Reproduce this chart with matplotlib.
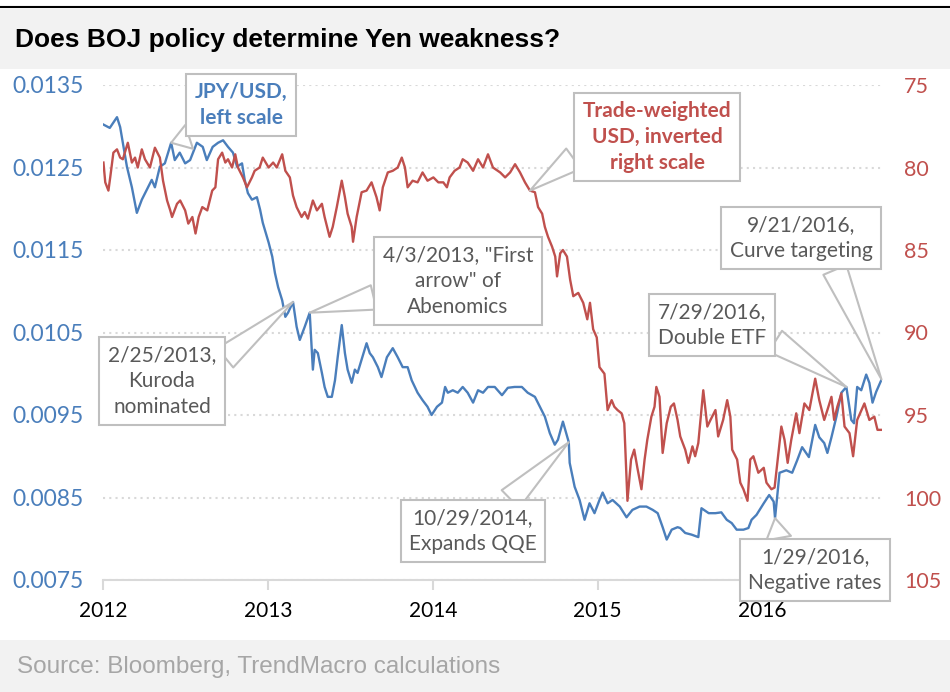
"""
Recreates the TrendMacro chart "Does BOJ policy determine Yen weakness?".

JPY/USD on the left scale against the trade-weighted USD on an inverted
right scale, with callouts for the BOJ policy events from 2013 to 2016.
The figure is saved to out.png.
"""

import numpy as np
import pandas as pd
import matplotlib.pyplot as plt
import matplotlib.dates as mdates
from matplotlib.patches import Rectangle
from matplotlib.lines import Line2D

# JPY/USD, left scale
jpy_dates = [
    "2012-01-02", "2012-01-16", "2012-02-01", "2012-02-08", "2012-02-14",
    "2012-02-23", "2012-03-05", "2012-03-16", "2012-03-27", "2012-04-07",
    "2012-04-18", "2012-04-25", "2012-05-06", "2012-05-17", "2012-05-31",
    "2012-06-08", "2012-06-19", "2012-07-01", "2012-07-12", "2012-07-27",
    "2012-08-09", "2012-08-18", "2012-08-31", "2012-09-12", "2012-09-23",
    "2012-10-04", "2012-10-15", "2012-10-24", "2012-11-04", "2012-11-10",
    "2012-11-17", "2012-11-26", "2012-12-07", "2012-12-14", "2012-12-20",
    "2013-01-02", "2013-01-10", "2013-01-16", "2013-01-23", "2013-02-01",
    "2013-02-08", "2013-02-14", "2013-02-25", "2013-03-05", "2013-03-12",
    "2013-03-23", "2013-04-03", "2013-04-10", "2013-04-14", "2013-04-21",
    "2013-04-30", "2013-05-06", "2013-05-13", "2013-05-22", "2013-05-29",
    "2013-06-04", "2013-06-13", "2013-06-20", "2013-06-26", "2013-07-05",
    "2013-07-12", "2013-07-18", "2013-07-27", "2013-08-07", "2013-08-14",
    "2013-08-21", "2013-09-01", "2013-09-09", "2013-09-21", "2013-09-27",
    "2013-10-04", "2013-10-15", "2013-10-26", "2013-11-06", "2013-11-15",
    "2013-11-22", "2013-11-28", "2013-12-09", "2013-12-20", "2013-12-29",
    "2014-01-10", "2014-01-21", "2014-01-28", "2014-02-03", "2014-02-14",
    "2014-02-25", "2014-03-08", "2014-03-19", "2014-03-31", "2014-04-11",
    "2014-04-22", "2014-05-03", "2014-05-18", "2014-06-03", "2014-06-16",
    "2014-07-01", "2014-07-17", "2014-07-30", "2014-08-15", "2014-08-26",
    "2014-09-06", "2014-09-17", "2014-09-28", "2014-10-05", "2014-10-16",
    "2014-10-29", "2014-10-31", "2014-11-11", "2014-11-22", "2014-12-03",
    "2014-12-14", "2014-12-25", "2015-01-05", "2015-01-12", "2015-01-23",
    "2015-02-03", "2015-02-19", "2015-03-06", "2015-03-19", "2015-04-04",
    "2015-04-19", "2015-05-03", "2015-05-14", "2015-05-25", "2015-06-03",
    "2015-06-14", "2015-06-27", "2015-07-03", "2015-07-14", "2015-07-28",
    "2015-08-12", "2015-08-19", "2015-09-04", "2015-09-19", "2015-10-02",
    "2015-10-14", "2015-10-25", "2015-11-05", "2015-11-20", "2015-12-01",
    "2015-12-08", "2015-12-19", "2016-01-04", "2016-01-16", "2016-01-26",
    "2016-01-29", "2016-02-08", "2016-02-23", "2016-03-07", "2016-03-18",
    "2016-03-29", "2016-04-13", "2016-04-27", "2016-05-06", "2016-05-17",
    "2016-05-24", "2016-06-02", "2016-06-13", "2016-06-24", "2016-07-05",
    "2016-07-16", "2016-07-22", "2016-07-29", "2016-08-07", "2016-08-18",
    "2016-08-25", "2016-09-01", "2016-09-09", "2016-09-21",
]
jpy_usd = [
    0.01302, 0.01298, 0.01311, 0.01299, 0.01280,
    0.01251, 0.01226, 0.01195, 0.01211, 0.01223,
    0.01235, 0.01226, 0.01251, 0.01255, 0.01280,
    0.01259, 0.01268, 0.01255, 0.01259, 0.01280,
    0.01275, 0.01259, 0.01275, 0.01280, 0.01283,
    0.01275, 0.01268, 0.01251, 0.01255, 0.01235,
    0.01219, 0.01211, 0.01214, 0.01199, 0.01183,
    0.01159, 0.01142, 0.01122, 0.01105, 0.01089,
    0.01069, 0.01074, 0.01087, 0.01057, 0.01041,
    0.01057, 0.01074, 0.01005, 0.01029, 0.01025,
    0.01001, 0.00984, 0.00972, 0.00972, 0.00992,
    0.01020, 0.01059, 0.01025, 0.01005, 0.00989,
    0.01005, 0.01001, 0.01017, 0.01037, 0.01025,
    0.01020, 0.01008, 0.00996, 0.01020, 0.01025,
    0.01031, 0.01020, 0.01008, 0.01008, 0.00992,
    0.00984, 0.00977, 0.00968, 0.00960, 0.00950,
    0.00960, 0.00965, 0.00984, 0.00977, 0.00980,
    0.00977, 0.00984, 0.00977, 0.00965, 0.00980,
    0.00977, 0.00984, 0.00984, 0.00974, 0.00983,
    0.00984, 0.00984, 0.00977, 0.00972, 0.00960,
    0.00948, 0.00928, 0.00914, 0.00920, 0.00942,
    0.00917, 0.00892, 0.00863, 0.00847, 0.00823,
    0.00843, 0.00831, 0.00847, 0.00856, 0.00843,
    0.00847, 0.00839, 0.00826, 0.00835, 0.00839,
    0.00839, 0.00835, 0.00831, 0.00814, 0.00799,
    0.00811, 0.00814, 0.00813, 0.00807, 0.00805,
    0.00802, 0.00837, 0.00831, 0.00831, 0.00832,
    0.00823, 0.00819, 0.00811, 0.00811, 0.00813,
    0.00823, 0.00829, 0.00843, 0.00853, 0.00845,
    0.00825, 0.00880, 0.00883, 0.00880, 0.00895,
    0.00911, 0.00899, 0.00938, 0.00923, 0.00916,
    0.00904, 0.00923, 0.00948, 0.00977, 0.00984,
    0.00944, 0.00940, 0.00984, 0.00980, 0.00999,
    0.00989, 0.00965, 0.00978, 0.00993,
]

# Trade-weighted USD, inverted right scale
usd_dates = [
    "2012-01-02", "2012-01-06", "2012-01-13", "2012-01-17", "2012-01-24",
    "2012-02-01", "2012-02-08", "2012-02-14", "2012-02-25", "2012-03-05",
    "2012-03-12", "2012-03-18", "2012-03-27", "2012-04-03", "2012-04-14",
    "2012-04-25", "2012-05-06", "2012-05-13", "2012-05-22", "2012-05-29",
    "2012-06-02", "2012-06-13", "2012-06-20", "2012-07-01", "2012-07-08",
    "2012-07-17", "2012-07-24", "2012-07-31", "2012-08-08", "2012-08-19",
    "2012-08-30", "2012-09-06", "2012-09-12", "2012-09-21", "2012-09-28",
    "2012-10-04", "2012-10-13", "2012-10-20", "2012-10-26", "2012-11-06",
    "2012-11-15", "2012-11-26", "2012-12-02", "2012-12-13", "2012-12-20",
    "2013-01-02", "2013-01-12", "2013-01-20", "2013-02-01", "2013-02-08",
    "2013-02-18", "2013-02-25", "2013-03-05", "2013-03-16", "2013-03-23",
    "2013-03-30", "2013-04-10", "2013-04-19", "2013-04-30", "2013-05-06",
    "2013-05-17", "2013-05-24", "2013-06-02", "2013-06-13", "2013-06-20",
    "2013-06-26", "2013-07-05", "2013-07-08", "2013-07-16", "2013-07-27",
    "2013-08-07", "2013-08-18", "2013-08-29", "2013-09-05", "2013-09-12",
    "2013-09-23", "2013-10-04", "2013-10-15", "2013-10-24", "2013-10-31",
    "2013-11-06", "2013-11-17", "2013-11-28", "2013-12-09", "2013-12-20",
    "2014-01-02", "2014-01-13", "2014-01-24", "2014-02-01", "2014-02-07",
    "2014-02-18", "2014-03-01", "2014-03-08", "2014-03-19", "2014-03-31",
    "2014-04-11", "2014-04-22", "2014-05-03", "2014-05-14", "2014-05-30",
    "2014-06-10", "2014-06-21", "2014-07-02", "2014-07-13", "2014-07-24",
    "2014-08-04", "2014-08-15", "2014-08-22", "2014-08-31", "2014-09-06",
    "2014-09-13", "2014-09-22", "2014-09-29", "2014-10-03", "2014-10-10",
    "2014-10-16", "2014-10-25", "2014-11-01", "2014-11-08", "2014-11-19",
    "2014-11-30", "2014-12-09", "2014-12-15", "2014-12-22", "2014-12-30",
    "2015-01-05", "2015-01-16", "2015-01-23", "2015-02-01", "2015-02-07",
    "2015-02-14", "2015-02-23", "2015-03-01", "2015-03-08", "2015-03-16",
    "2015-03-23", "2015-03-30", "2015-04-08", "2015-04-15", "2015-04-21",
    "2015-04-30", "2015-05-07", "2015-05-11", "2015-05-18", "2015-05-25",
    "2015-06-03", "2015-06-12", "2015-06-19", "2015-06-27", "2015-07-03",
    "2015-07-14", "2015-07-21", "2015-07-30", "2015-08-05", "2015-08-12",
    "2015-08-23", "2015-09-01", "2015-09-08", "2015-09-19", "2015-09-25",
    "2015-10-06", "2015-10-15", "2015-10-22", "2015-10-26", "2015-11-06",
    "2015-11-13", "2015-11-20", "2015-11-29", "2015-12-05", "2015-12-12",
    "2015-12-23", "2016-01-04", "2016-01-10", "2016-01-21", "2016-01-28",
    "2016-02-04", "2016-02-12", "2016-02-19", "2016-02-26", "2016-03-05",
    "2016-03-16", "2016-03-23", "2016-04-03", "2016-04-14", "2016-04-27",
    "2016-05-06", "2016-05-17", "2016-05-24", "2016-06-02", "2016-06-08",
    "2016-06-15", "2016-06-24", "2016-07-01", "2016-07-12", "2016-07-20",
    "2016-07-29", "2016-08-14", "2016-08-25", "2016-09-05", "2016-09-12",
    "2016-09-21",
]
usd_tw = [
    79.7, 80.9, 81.4, 80.6, 79.1,
    78.9, 79.4, 79.5, 78.5, 79.7,
    79.4, 80.0, 78.9, 79.5, 80.0,
    78.8, 79.4, 80.8, 82.0, 82.6,
    83.0, 82.2, 82.0, 82.6, 83.4,
    83.0, 84.0, 83.0, 82.4, 82.6,
    81.4, 81.2, 79.5, 79.1, 79.7,
    79.5, 80.0, 79.2, 80.0, 80.6,
    81.2, 80.6, 80.2, 80.0, 79.4,
    80.0, 79.7, 80.0, 79.2, 80.2,
    80.6, 81.7, 82.4, 83.0, 82.7,
    83.1, 82.0, 82.6, 82.2, 83.0,
    84.2, 83.6, 82.4, 80.8, 81.8,
    82.8, 83.6, 84.5, 83.0, 81.5,
    81.4, 80.9, 81.8, 82.6, 81.2,
    80.3, 80.2, 80.0, 79.4, 80.0,
    81.2, 80.8, 80.9, 80.3, 80.8,
    80.6, 80.9, 80.9, 81.2, 80.6,
    80.2, 80.0, 79.5, 79.7, 80.2,
    79.5, 80.0, 79.2, 80.0, 80.3,
    80.6, 80.3, 79.8, 80.3, 80.9,
    81.4, 81.5, 82.4, 82.8, 83.6,
    84.2, 84.8, 85.4, 86.6, 85.2,
    85.0, 85.4, 86.8, 87.8, 87.6,
    88.2, 89.2, 88.2, 89.8, 90.3,
    92.1, 92.5, 94.7, 94.1, 94.5,
    94.7, 94.9, 95.5, 100.2, 97.7,
    97.1, 98.2, 99.5, 97.7, 96.5,
    95.1, 94.5, 93.3, 93.9, 97.3,
    95.5, 94.5, 94.3, 95.3, 96.3,
    97.1, 97.9, 96.9, 97.5, 96.7,
    93.5, 95.7, 95.3, 94.7, 96.3,
    95.3, 94.1, 95.1, 97.1, 97.7,
    99.1, 99.5, 100.2, 97.7, 97.5,
    98.5, 98.2, 99.1, 99.5, 99.4,
    97.7, 95.7, 96.5, 97.9, 96.5,
    94.9, 96.1, 94.3, 94.7, 92.8,
    94.1, 95.3, 94.7, 93.9, 95.3,
    94.5, 93.7, 95.7, 96.1, 97.5,
    95.3, 94.3, 95.3, 95.1, 95.9,
    95.9,
]

left_ticks = [0.0075, 0.0085, 0.0095, 0.0105, 0.0115, 0.0125, 0.0135]
right_ticks = [75, 80, 85, 90, 95, 100, 105]
years = ["2012", "2013", "2014", "2015", "2016"]

# callouts: text, date, series it points at, box centre (px), wedge anchor
notes = [
    ("JPY/USD,\nleft scale", "2012-05-31", "jpy", (241, 105), (0.24, 0.0)),
    ("Trade-weighted\nUSD, inverted\nright scale", "2014-08-04", "usd",
     (657, 137), (0.0, 0.29)),
    ('4/3/2013, "First\narrow" of\nAbenomics', "2013-04-03", "jpy",
     (458, 281), (0.0, 0.30)),
    ("2/25/2013,\nKuroda\nnominated", "2013-02-25", "jpy",
     (162, 381), (1.0, 0.72)),
    ("10/29/2014,\nExpands QQE", "2014-10-29", "jpy",
     (473, 531), (0.72, 1.0)),
    ("1/29/2016,\nNegative rates", "2016-01-29", "jpy",
     (815, 570), (0.24, 1.0)),
    ("7/29/2016,\nDouble ETF", "2016-07-05", "jpy", (712, 325), (1.0, 0.27)),
    ("9/21/2016,\nCurve targeting", "2016-09-21", "jpy",
     (801, 238), (0.71, 0.0)),
]

BLUE = "#4a7ebb"
RED = "#c0504d"
GRID = "#d9d9d9"
EDGE = "#bfbfbf"
NOTE = "#595959"
W, H = 950, 692


def fx(px):
    return px / W


def fy(py):
    return 1 - py / H


def main(outfile):
    plt.rcParams["font.family"] = ["Lato", "DejaVu Sans"]

    fig = plt.figure(figsize=(W / 100, H / 100), dpi=100)

    # title and source bars
    fig.add_artist(Rectangle((0, fy(69)), 1, fy(9) - fy(69),
                             transform=fig.transFigure, fc="#f2f2f2",
                             ec="none"))
    fig.add_artist(Line2D([0, 1], [fy(7), fy(7)], transform=fig.transFigure,
                          color="black", lw=1.5))
    fig.text(fx(15), fy(40), "Does BOJ policy determine Yen weakness?",
             fontsize=19, fontweight="bold", family="Liberation Sans",
             va="center")
    fig.add_artist(Rectangle((0, 0), 1, fy(640), transform=fig.transFigure,
                             fc="#f2f2f2", ec="none"))
    fig.text(fx(17), fy(667), "Source: Bloomberg, TrendMacro calculations",
             fontsize=17.5, color="#a6a6a6", family="Liberation Sans",
             va="center")

    ax = fig.add_axes([fx(103), fy(580), fx(882) - fx(103), fy(85) - fy(580)])
    ax2 = ax.twinx()

    jd = mdates.date2num(pd.to_datetime(jpy_dates))
    ud = mdates.date2num(pd.to_datetime(usd_dates))
    ax.plot(jd, jpy_usd, color=BLUE, lw=1.7)
    ax2.plot(ud, usd_tw, color=RED, lw=1.7)

    ax.set_xlim(mdates.date2num(pd.Timestamp("2012-01-01")),
                mdates.date2num(pd.Timestamp("2016-09-22")))
    ax.set_xticks(mdates.date2num(pd.to_datetime([y + "-01-01" for y in years])))
    ax.set_xticklabels(years)

    ax.set_ylim(left_ticks[0], left_ticks[-1])
    ax.set_yticks(left_ticks)
    ax.set_yticklabels([f"{v:.4f}" for v in left_ticks])
    ax2.set_ylim(right_ticks[-1], right_ticks[0])
    ax2.set_yticks(right_ticks)
    ax2.set_yticklabels([str(v) for v in right_ticks])

    ax.tick_params(axis="y", length=0, pad=14, labelsize=16.5, labelcolor=BLUE)
    ax2.tick_params(axis="y", length=0, pad=16, labelsize=15.5, labelcolor=RED)
    ax.tick_params(axis="x", length=7, width=1.5, color=GRID, pad=8,
                   labelsize=15, labelcolor="black")

    for s in ["top", "left", "right"]:
        ax.spines[s].set_visible(False)
    for s in ax2.spines.values():
        s.set_visible(False)
    ax.spines["bottom"].set_color(GRID)
    ax.spines["bottom"].set_linewidth(1.5)
    ax.grid(axis="y", color=GRID, ls=(0, (1, 2)), lw=1.5)
    ax.set_axisbelow(True)

    # callouts
    for text, day, which, (cx, cy), rp in notes:
        d = mdates.date2num(pd.Timestamp(day))
        if which == "jpy":
            val = np.interp(d, jd, jpy_usd)
            trans = ax.transData
            if text.startswith("JPY"):
                color, weight = BLUE, "bold"
            else:
                color, weight = NOTE, "normal"
        else:
            val = np.interp(d, ud, usd_tw)
            trans = ax2.transData
            color, weight = RED, "bold"
        ax2.annotate(
            text, xy=(d, val), xycoords=trans,
            xytext=(fx(cx), fy(cy)), textcoords="figure fraction",
            ha="center", va="center", multialignment="center",
            fontsize=15, color=color, fontweight=weight, linespacing=1.35,
            bbox=dict(boxstyle="square,pad=0.4", fc="white", ec=EDGE,
                      lw=1.5),
            arrowprops=dict(arrowstyle="wedge,tail_width=1.2,shrink_factor=0.5",
                            fc="white", ec=EDGE, lw=1.5, shrinkA=0,
                            shrinkB=0, relpos=rp),
            annotation_clip=False, zorder=5,
        )

    fig.savefig(outfile, dpi=100)


if __name__ == "__main__":
    main("out.png")
